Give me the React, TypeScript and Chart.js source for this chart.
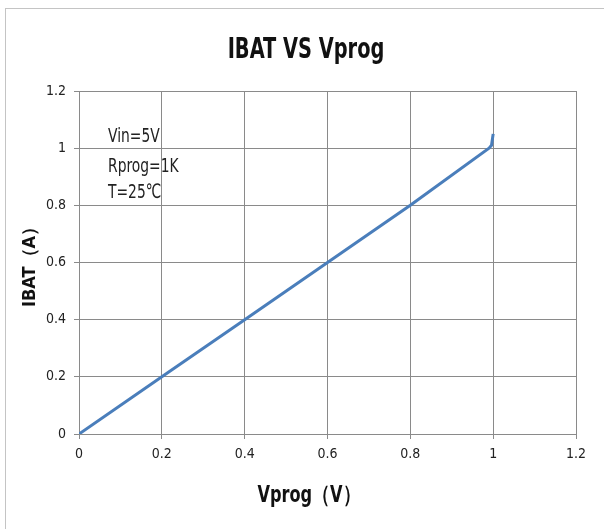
import React, { useEffect, useRef } from "react";
import { Chart, registerables } from "chart.js";

Chart.register(...registerables);

const xValues = [0, 0.2, 0.4, 0.6, 0.8, 0.99, 0.996, 1.0];
const yValues = [0, 0.2, 0.4, 0.6, 0.8, 1.0, 1.01, 1.05];
const xTicks = [0, 0.2, 0.4, 0.6, 0.8, 1, 1.2];
const yTicks = [0, 0.2, 0.4, 0.6, 0.8, 1, 1.2];
const titleText = "IBAT VS Vprog";
const xTitle = "Vprog（V）";
const yTitle = "IBAT（A）";
const noteLines = ["Vin=5V", "Rprog=1K", "T=25℃"];

const FONT = '"DejaVu Sans Condensed", "Open Sans", sans-serif';
const GRID = "#8a8a8a";

function drawSqueezed(ctx: any, text: string, font: string, cx: number, baseline: number, sx: number, align: string) {
  ctx.save();
  ctx.font = font;
  ctx.textAlign = align;
  ctx.textBaseline = "alphabetic";
  ctx.translate(cx, baseline);
  ctx.scale(sx, 1);
  ctx.fillText(text, 0, 0);
  ctx.restore();
}

const textPlugin = {
  id: "texts",
  afterDraw(chart: any) {
    const { ctx, chartArea } = chart;
    ctx.fillStyle = "#111";
    drawSqueezed(ctx, titleText, `bold 28px ${FONT}`, 306, 58, 0.77, "center");
    ctx.fillStyle = "#111";
    drawSqueezed(ctx, xTitle, `bold 23px ${FONT}`, 309, 502, 0.78, "center");
    const offs = [51, 81, 107];
    noteLines.forEach((t, i) => {
      ctx.fillStyle = "#222";
      drawSqueezed(ctx, t, `20px ${FONT}`, chartArea.left + 29, chartArea.top + offs[i], 0.77, "left");
    });
  },
};

export default function App() {
  const ref = useRef<HTMLCanvasElement | null>(null);
  useEffect(() => {
    if (!ref.current) return;
    const chart = new Chart(ref.current, {
      type: "scatter",
      data: {
        datasets: [
          {
            data: xValues.map((x, i) => ({ x, y: yValues[i] })),
            showLine: true,
            borderColor: "#4a7ebb",
            backgroundColor: "#4a7ebb",
            borderWidth: 3,
            pointRadius: 0,
            tension: 0,
          },
        ],
      },
      options: {
        animation: false,
        responsive: false,
        layout: { padding: { left: 0, right: 28, top: 91, bottom: 0 } },
        plugins: {
          legend: { display: false },
          tooltip: { enabled: false },
          title: { display: false },
        },
        scales: {
          x: {
            type: "linear",
            min: 0,
            max: 1.2,
            afterBuildTicks: (s: any) => {
              s.ticks = xTicks.map((v) => ({ value: v }));
            },
            afterFit: (s: any) => {
              s.height = 95;
            },
            grid: { color: GRID, lineWidth: 1, tickLength: 5, drawTicks: true },
            border: { color: GRID },
            ticks: {
              color: "#222",
              font: { family: FONT, size: 14 },
              padding: 7,
              maxRotation: 0,
              callback: (v: any) => String(v),
            },
            title: { display: false },
          },
          y: {
            type: "linear",
            min: 0,
            max: 1.2,
            afterBuildTicks: (s: any) => {
              s.ticks = yTicks.map((v) => ({ value: v }));
            },
            afterFit: (s: any) => {
              s.width = 79;
            },
            grid: { color: GRID, lineWidth: 1, tickLength: 5 },
            border: { color: GRID },
            ticks: {
              color: "#222",
              font: { family: FONT, size: 14 },
              padding: 8,
              callback: (v: any) => String(v),
            },
            title: {
              display: true,
              text: yTitle,
              color: "#111",
              font: { family: FONT, size: 18, weight: "bold" },
              padding: { top: 20, bottom: 0 },
            },
          },
        },
      },
      plugins: [textPlugin],
    });
    return () => chart.destroy();
  }, []);

  return (
    <div style={{ position: "fixed", left: 0, top: 0, width: 604, height: 529, background: "#fff", overflow: "hidden" }}>
      <div
        style={{
          position: "absolute",
          left: 5,
          top: 8,
          width: 640,
          height: 560,
          border: "1px solid #c4c4c4",
          boxSizing: "border-box",
        }}
      />
      <canvas ref={ref} width={604} height={529} style={{ position: "absolute", left: 0, top: 0 }} />
    </div>
  );
}
